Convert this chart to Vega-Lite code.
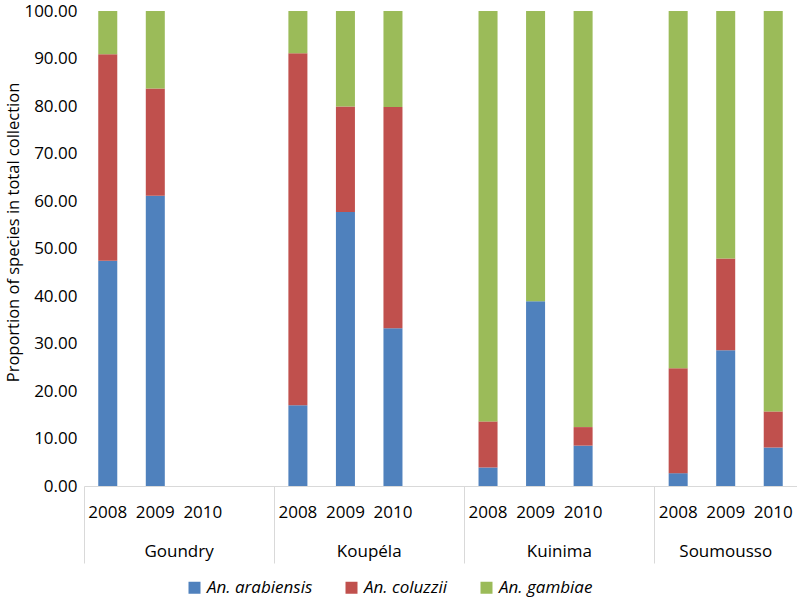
{
  "$schema": "https://vega.github.io/schema/vega-lite/v6.json",
  "width": 713,
  "height": 475,
  "autosize": {"type": "none"},
  "padding": {"left": 84, "top": 11, "right": 0, "bottom": 114},
  "config": {
    "view": {"stroke": null},
    "font": "Open Sans",
    "axis": {"labelFont": "Open Sans", "titleFont": "Open Sans", "labelColor": "#000000", "titleColor": "#000000"},
    "legend": {"labelFont": "Open Sans", "labelColor": "#000000"}
  },
  "data": {
    "values": [
      {"sample": "Goundry 2008", "species": "An. arabiensis", "value": 47.4},
      {"sample": "Goundry 2008", "species": "An. coluzzii", "value": 43.5},
      {"sample": "Goundry 2008", "species": "An. gambiae", "value": 9.1},
      {"sample": "Goundry 2009", "species": "An. arabiensis", "value": 61.1},
      {"sample": "Goundry 2009", "species": "An. coluzzii", "value": 22.6},
      {"sample": "Goundry 2009", "species": "An. gambiae", "value": 16.3},
      {"sample": "Koupéla 2008", "species": "An. arabiensis", "value": 17.0},
      {"sample": "Koupéla 2008", "species": "An. coluzzii", "value": 74.1},
      {"sample": "Koupéla 2008", "species": "An. gambiae", "value": 8.9},
      {"sample": "Koupéla 2009", "species": "An. arabiensis", "value": 57.7},
      {"sample": "Koupéla 2009", "species": "An. coluzzii", "value": 22.2},
      {"sample": "Koupéla 2009", "species": "An. gambiae", "value": 20.1},
      {"sample": "Koupéla 2010", "species": "An. arabiensis", "value": 33.2},
      {"sample": "Koupéla 2010", "species": "An. coluzzii", "value": 46.6},
      {"sample": "Koupéla 2010", "species": "An. gambiae", "value": 20.2},
      {"sample": "Kuinima 2008", "species": "An. arabiensis", "value": 3.9},
      {"sample": "Kuinima 2008", "species": "An. coluzzii", "value": 9.7},
      {"sample": "Kuinima 2008", "species": "An. gambiae", "value": 86.4},
      {"sample": "Kuinima 2009", "species": "An. arabiensis", "value": 38.9},
      {"sample": "Kuinima 2009", "species": "An. coluzzii", "value": 0},
      {"sample": "Kuinima 2009", "species": "An. gambiae", "value": 61.1},
      {"sample": "Kuinima 2010", "species": "An. arabiensis", "value": 8.5},
      {"sample": "Kuinima 2010", "species": "An. coluzzii", "value": 3.9},
      {"sample": "Kuinima 2010", "species": "An. gambiae", "value": 87.6},
      {"sample": "Soumousso 2008", "species": "An. arabiensis", "value": 2.7},
      {"sample": "Soumousso 2008", "species": "An. coluzzii", "value": 22.1},
      {"sample": "Soumousso 2008", "species": "An. gambiae", "value": 75.2},
      {"sample": "Soumousso 2009", "species": "An. arabiensis", "value": 28.6},
      {"sample": "Soumousso 2009", "species": "An. coluzzii", "value": 19.3},
      {"sample": "Soumousso 2009", "species": "An. gambiae", "value": 52.1},
      {"sample": "Soumousso 2010", "species": "An. arabiensis", "value": 8.1},
      {"sample": "Soumousso 2010", "species": "An. coluzzii", "value": 7.6},
      {"sample": "Soumousso 2010", "species": "An. gambiae", "value": 84.3}
    ]
  },
  "layer": [
    {
      "mark": {"type": "bar", "width": {"band": 0.4}},
      "encoding": {
        "x": {
          "field": "sample",
          "type": "nominal",
          "sort": null,
          "scale": {
            "domain": ["Goundry 2008", "Goundry 2009", "Goundry 2010", "gap1", "Koupéla 2008", "Koupéla 2009", "Koupéla 2010", "gap2", "Kuinima 2008", "Kuinima 2009", "Kuinima 2010", "gap3", "Soumousso 2008", "Soumousso 2009", "Soumousso 2010"],
            "paddingInner": 0,
            "paddingOuter": 0
          },
          "axis": {
            "orient": "bottom",
            "title": null,
            "ticks": false,
            "domainColor": "#d9d9d9",
            "labelAngle": 0,
            "labelFontSize": 17,
            "labelPadding": 18,
            "labelOverlap": false,
            "labelExpr": "indexof(datum.value, ' 20') >= 0 ? slice(datum.value, -4) : ''"
          }
        },
        "y": {
          "field": "value",
          "type": "quantitative",
          "stack": "zero",
          "scale": {"domain": [0, 100], "nice": false},
          "axis": {
            "values": [0, 10, 20, 30, 40, 50, 60, 70, 80, 90, 100],
            "format": ".2f",
            "grid": false,
            "domain": false,
            "ticks": false,
            "labelFontSize": 17,
            "labelPadding": 7,
            "title": "Proportion of  species in total  collection",
            "titleFontSize": 16.5,
            "titleFontWeight": "normal",
            "titlePadding": 2,
            "titleY": 221
          }
        },
        "color": {
          "field": "species",
          "type": "nominal",
          "scale": {
            "domain": ["An. arabiensis", "An. coluzzii", "An. gambiae"],
            "range": ["#4F81BD", "#C0504D", "#9BBB59"]
          },
          "legend": {
            "orient": "none",
            "legendX": 102,
            "legendY": 568,
            "direction": "horizontal",
            "title": null,
            "symbolType": "square",
            "symbolSize": 144,
            "symbolStrokeWidth": 0,
            "labelFontSize": 17,
            "labelFontStyle": "italic",
            "labelOffset": 4,
            "columnPadding": 30
          }
        },
        "order": {"field": "species", "type": "nominal", "sort": "ascending"}
      }
    },
    {
      "mark": {"type": "point", "opacity": 0},
      "encoding": {
        "x": {
          "field": "sample",
          "type": "nominal",
          "sort": null,
          "scale": {
            "domain": ["Goundry 2008", "Goundry 2009", "Goundry 2010", "gap1", "Koupéla 2008", "Koupéla 2009", "Koupéla 2010", "gap2", "Kuinima 2008", "Kuinima 2009", "Kuinima 2010", "gap3", "Soumousso 2008", "Soumousso 2009", "Soumousso 2010"],
            "paddingInner": 0,
            "paddingOuter": 0
          },
          "axis": {
            "orient": "bottom",
            "title": null,
            "domain": false,
            "bandPosition": 0,
            "values": ["Goundry 2008", "Goundry 2010", "Koupéla 2008", "Koupéla 2010", "Kuinima 2008", "Kuinima 2010", "Soumousso 2008", "Soumousso 2009"],
            "tickSize": 77,
            "tickColor": "#d9d9d9",
            "tickOpacity": {"condition": {"test": "slice(datum.value, -4) == '2008'", "value": 1}, "value": 0},
            "labelOffset": {"condition": {"test": "slice(datum.value, -4) == '2010'", "value": -23.75}, "value": 0},
            "labelAngle": 0,
            "labelFontSize": 17,
            "labelPadding": -20,
            "labelOverlap": false,
            "labelExpr": "(slice(datum.value, -4) == '2010' || datum.value == 'Soumousso 2009') ? split(datum.value, ' ')[0] : ''"
          }
        },
        "y": {"datum": 0}
      }
    }
  ],
  "resolve": {"axis": {"x": "independent"}}
}
